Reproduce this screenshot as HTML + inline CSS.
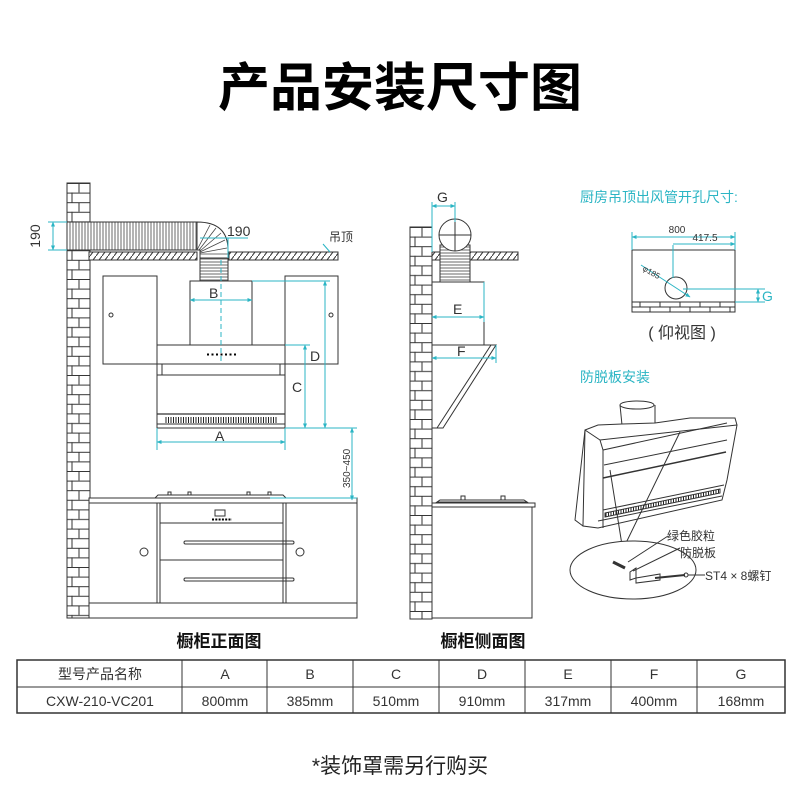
<!DOCTYPE html>
<html><head><meta charset="utf-8"><style>
html,body{margin:0;padding:0;background:#fff;}
svg{display:block;}
text{font-family:"Liberation Sans","Noto Sans CJK SC",sans-serif;}
</style></head><body>
<svg width="800" height="800" viewBox="0 0 800 800" xmlns="http://www.w3.org/2000/svg">
<defs>
<pattern id="brickF" x="67" y="183" width="23" height="19.2" patternUnits="userSpaceOnUse">
<rect width="23" height="19.2" fill="#fff"/>
<line x1="0" y1="0.5" x2="23" y2="0.5" stroke="#333" stroke-width="1"/>
<line x1="0" y1="10.1" x2="23" y2="10.1" stroke="#333" stroke-width="1"/>
<line x1="12" y1="0" x2="12" y2="9.6" stroke="#333" stroke-width="1"/>
<line x1="5" y1="9.6" x2="5" y2="19.2" stroke="#333" stroke-width="1"/>
</pattern>
<pattern id="brickS" x="410" y="227" width="22" height="19.2" patternUnits="userSpaceOnUse">
<rect width="22" height="19.2" fill="#fff"/>
<line x1="0" y1="0.5" x2="22" y2="0.5" stroke="#333" stroke-width="1"/>
<line x1="0" y1="10.1" x2="22" y2="10.1" stroke="#333" stroke-width="1"/>
<line x1="12" y1="0" x2="12" y2="9.6" stroke="#333" stroke-width="1"/>
<line x1="5" y1="9.6" x2="5" y2="19.2" stroke="#333" stroke-width="1"/>
</pattern>
<pattern id="hatch" width="6" height="8" patternUnits="userSpaceOnUse">
<rect width="6" height="8" fill="#fff"/>
<line x1="0" y1="8" x2="6" y2="0" stroke="#333" stroke-width="1"/>
</pattern>
<pattern id="vbel" width="3" height="10" patternUnits="userSpaceOnUse">
<rect width="3" height="10" fill="#fff"/>
<line x1="1" y1="0" x2="1" y2="10" stroke="#444" stroke-width="0.8"/>
</pattern>
<pattern id="hbel" width="10" height="3" patternUnits="userSpaceOnUse">
<rect width="10" height="3" fill="#fff"/>
<line x1="0" y1="1" x2="10" y2="1" stroke="#444" stroke-width="0.8"/>
</pattern>
<pattern id="grille" width="2.5" height="10" patternUnits="userSpaceOnUse">
<rect width="2.5" height="10" fill="#fff"/>
<line x1="1" y1="0" x2="1" y2="10" stroke="#222" stroke-width="1"/>
</pattern>
<marker id="ar" viewBox="0 0 10 10" refX="9" refY="5" markerWidth="5" markerHeight="5" orient="auto-start-reverse">
<path d="M0,1 L10,5 L0,9 z" fill="#2bb5c4"/>
</marker>
</defs>

<text x="400" y="106" font-size="52" font-weight="bold" text-anchor="middle" fill="#000">产品安装尺寸图</text>

<!-- FRONT VIEW -->
<g stroke="#333" fill="none" stroke-width="1">
<rect x="67" y="183" width="23" height="435" fill="url(#brickF)"/>
<rect x="89" y="252" width="108" height="8" fill="url(#hatch)"/>
<rect x="229" y="252" width="109" height="8" fill="url(#hatch)"/>
<rect x="67" y="222" width="130" height="28" fill="url(#vbel)"/>
<path d="M197,222 Q228,222 228,250 L228,258 L200,258 L200,250 Q200,250 197,250 Z" fill="#fff"/>
<path d="M197,250 L210,225 M199,250 L216,228 M200,251 L221,233 M200,252 L225,240 M200,253 L227,248 M200,254 L228,254" stroke="#444" stroke-width="0.8"/>
<rect x="200" y="258" width="28" height="24" fill="url(#hbel)"/>
<rect x="103" y="276" width="54" height="88" fill="#fff"/>
<circle cx="111" cy="315" r="2"/>
<rect x="285" y="276" width="53" height="88" fill="#fff"/>
<circle cx="331" cy="315" r="2"/>
<rect x="190" y="281" width="62" height="64" fill="#fff"/>
<rect x="157" y="345" width="128" height="19" fill="#fff"/>
<rect x="157" y="364" width="128" height="64" fill="#fff"/>
<line x1="162" y1="364" x2="162" y2="375"/><line x1="280" y1="364" x2="280" y2="375"/>
<line x1="157" y1="375" x2="285" y2="375"/>
<line x1="157" y1="414" x2="285" y2="414" stroke-width="1.3"/>
<rect x="165" y="417" width="112" height="6" fill="url(#grille)" stroke="none"/>
<line x1="157" y1="424" x2="285" y2="424"/>
<line x1="207" y1="354.5" x2="238" y2="354.5" stroke="#000" stroke-width="2" stroke-dasharray="2,2.5"/>
<path d="M155,498 L158,495 L283,495 L286,498 Z" fill="#fff"/>
<rect x="168" y="492" width="3" height="3"/><rect x="188" y="492" width="3" height="3"/><rect x="247" y="492" width="3" height="3"/><rect x="268" y="492" width="3" height="3"/>
<rect x="89" y="498" width="268" height="5" fill="#fff"/>
<rect x="89" y="503" width="268" height="115" fill="#fff"/>
<line x1="89" y1="603" x2="357" y2="603"/>
<line x1="157" y1="503" x2="157" y2="603"/><line x1="160" y1="503" x2="160" y2="603"/>
<line x1="283" y1="503" x2="283" y2="603"/><line x1="286" y1="503" x2="286" y2="603"/>
<line x1="160" y1="523" x2="283" y2="523"/>
<line x1="160" y1="560" x2="283" y2="560"/>
<rect x="215" y="510" width="10" height="6"/>
<line x1="212" y1="519.5" x2="232" y2="519.5" stroke="#000" stroke-width="2" stroke-dasharray="2,1.3"/>
<rect x="184" y="541" width="110" height="3" rx="1.5"/>
<rect x="184" y="578" width="110" height="3" rx="1.5"/>
<circle cx="144" cy="552" r="4"/><circle cx="300" cy="552" r="4"/>
</g>
<g stroke="#2bb5c4" fill="none" stroke-width="1">
<line x1="48" y1="222" x2="67" y2="222"/><line x1="48" y1="250" x2="67" y2="250"/>
<line x1="53" y1="222" x2="53" y2="250" marker-start="url(#ar)" marker-end="url(#ar)"/>
<line x1="200" y1="238" x2="248" y2="238"/>
<line x1="228" y1="238" x2="228" y2="258"/>
<line x1="190" y1="300" x2="252" y2="300" marker-start="url(#ar)" marker-end="url(#ar)"/>
<line x1="221" y1="260" x2="221" y2="364" stroke-dasharray="5,3"/>
<line x1="252" y1="281" x2="330" y2="281"/>
<line x1="325" y1="281" x2="325" y2="428" marker-start="url(#ar)" marker-end="url(#ar)"/>
<line x1="285" y1="345" x2="310" y2="345"/>
<line x1="305" y1="345" x2="305" y2="428" marker-start="url(#ar)" marker-end="url(#ar)"/>
<line x1="285" y1="428" x2="357" y2="428"/>
<line x1="157" y1="428" x2="157" y2="450"/><line x1="285" y1="428" x2="285" y2="450"/>
<line x1="157" y1="442" x2="285" y2="442" marker-start="url(#ar)" marker-end="url(#ar)"/>
<line x1="352" y1="428" x2="352" y2="500" marker-start="url(#ar)" marker-end="url(#ar)"/>
<line x1="270" y1="498" x2="357" y2="498"/>
</g>
<line x1="330" y1="252" x2="323" y2="244" stroke="#2bb5c4"/>
<g fill="#333" font-size="14">
<text x="40" y="236" transform="rotate(-90 40 236)" text-anchor="middle">190</text>
<text x="227" y="236">190</text>
<text x="329" y="241" font-size="12">吊顶</text>
<text x="209" y="298">B</text>
<text x="310" y="361">D</text>
<text x="292" y="392">C</text>
<text x="215" y="441">A</text>
<text x="0" y="0" font-size="10" transform="translate(350,488) rotate(-90)">350~450</text>
</g>

<!-- SIDE VIEW -->
<g stroke="#333" fill="none" stroke-width="1">
<rect x="410" y="227" width="22" height="392" fill="url(#brickS)"/>
<rect x="432" y="252" width="8" height="8" fill="url(#hatch)"/>
<rect x="470" y="252" width="48" height="8" fill="url(#hatch)"/>
<rect x="440" y="245" width="30" height="37" fill="url(#hbel)"/>
<circle cx="455" cy="235" r="16" fill="#fff"/>
<line x1="455" y1="219" x2="455" y2="251"/><line x1="439" y1="235" x2="471" y2="235"/>
<rect x="432" y="282" width="52" height="63" fill="#fff"/>
<path d="M432,345 L496,345 L443,428 L432,428 Z" fill="#fff"/>
<line x1="491" y1="345" x2="437" y2="428"/>
<path d="M437,502 L440,500 L524,500 L527,502 Z" fill="#fff"/>
<rect x="461" y="496" width="4" height="4"/><rect x="501" y="496" width="4" height="4"/>
<rect x="432" y="503" width="103" height="4" fill="#fff"/>
<rect x="432" y="507" width="100" height="111" fill="#fff"/>
</g>
<g stroke="#2bb5c4" fill="none" stroke-width="1">
<line x1="432" y1="202" x2="432" y2="252"/><line x1="455" y1="202" x2="455" y2="222"/>
<line x1="432" y1="206" x2="455" y2="206" marker-start="url(#ar)" marker-end="url(#ar)"/>
<line x1="484" y1="282" x2="484" y2="322"/>
<line x1="432" y1="317" x2="484" y2="317" marker-start="url(#ar)" marker-end="url(#ar)"/>
<line x1="496" y1="345" x2="496" y2="363"/>
<line x1="432" y1="358" x2="496" y2="358" marker-start="url(#ar)" marker-end="url(#ar)"/>
</g>
<g fill="#333" font-size="14">
<text x="437" y="202">G</text>
<text x="453" y="314">E</text>
<text x="457" y="356">F</text>
</g>

<!-- CEILING HOLE -->
<text x="580" y="202" font-size="14" fill="#2bb5c4">厨房吊顶出风管开孔尺寸:</text>
<g stroke="#333" fill="none" stroke-width="1">
<rect x="632" y="250" width="103" height="62" fill="#fff"/>
<line x1="632" y1="302" x2="735" y2="302"/>
<line x1="632" y1="307" x2="735" y2="307"/>
<path d="M640,302V307 M660,302V307 M680,302V307 M700,302V307 M720,302V307 M650,307V312 M670,307V312 M690,307V312 M710,307V312 M730,307V312"/>
<circle cx="676" cy="288" r="11" fill="#fff"/>
</g>
<g stroke="#2bb5c4" fill="none" stroke-width="1">
<line x1="632" y1="232" x2="632" y2="250"/><line x1="735" y1="232" x2="735" y2="250"/>
<line x1="632" y1="237" x2="735" y2="237" marker-start="url(#ar)" marker-end="url(#ar)"/>
<line x1="673" y1="245" x2="673" y2="278"/>
<line x1="673" y1="244" x2="735" y2="244" marker-end="url(#ar)"/>
<line x1="641" y1="265" x2="690" y2="297" marker-end="url(#ar)"/>
<line x1="683" y1="289" x2="765" y2="289"/><line x1="735" y1="302" x2="765" y2="302"/>
<line x1="758" y1="289" x2="758" y2="302" marker-start="url(#ar)" marker-end="url(#ar)"/>
</g>
<text x="677" y="233" font-size="10" fill="#333" text-anchor="middle">800</text>
<text x="705" y="241" font-size="10" fill="#333" text-anchor="middle">417.5</text>
<text x="642" y="270" font-size="8" fill="#333" transform="rotate(30 642 270)">φ185</text>
<text x="762" y="301" font-size="14" fill="#2bb5c4">G</text>
<text x="682" y="338" font-size="16" fill="#333" text-anchor="middle">( 仰视图 )</text>

<!-- ANTI-DETACH -->
<text x="580" y="382" font-size="14" fill="#2bb5c4">防脱板安装</text>
<g stroke="#333" fill="none" stroke-width="1">
<path d="M620,405 L622,425 L655,425 L655,405" fill="#fff"/>
<ellipse cx="637" cy="405" rx="17" ry="4" fill="#fff"/>
<path d="M585,430 L598,425 L622,424 L655,423 L690,418 L735,418 L737,425 L727,480 L722,500 L598,528 L583,526 L583,525 Z" fill="#fff"/>
<path d="M585,430 L600,440 L737,425"/>
<path d="M600,440 L603,450 L727,423"/>
<path d="M603,450 L603,528"/>
<path d="M604,465 L727,440"/>
<path d="M603,478 L726,452" stroke-width="1.5"/>
<path d="M603,510 L724,485"/>
<path d="M598,521 L722,496"/>
<path d="M605,513 L720,489 L720,493 L605,517 Z" fill="url(#grille)"/>
<path d="M585,430 L575,520 L583,526"/>
<path d="M610,470 L622,545 M680,432 L625,545"/>
<ellipse cx="633" cy="570" rx="63" ry="29" fill="#fff"/>
<line x1="613" y1="562" x2="625" y2="568" stroke-width="3"/>
<line x1="628" y1="562" x2="668" y2="536"/>
<path d="M630,572 L636,568 L636,578 L630,580 Z"/>
<path d="M636,578 L660,574 L660,580 L636,583 Z"/>
<line x1="633" y1="571" x2="680" y2="548"/>
<line x1="655" y1="578" x2="685" y2="575" stroke-width="2"/>
<circle cx="686" cy="575" r="2"/>
<line x1="688" y1="575" x2="705" y2="575"/>
</g>
<text x="667" y="540" font-size="12" fill="#333">绿色胶粒</text>
<text x="680" y="557" font-size="12" fill="#333">防脱板</text>
<text x="705" y="580" font-size="12" fill="#333">ST4 × 8螺钉</text>

<text x="219" y="647" font-size="17" font-weight="bold" text-anchor="middle" fill="#111">橱柜正面图</text>
<text x="483" y="647" font-size="17" font-weight="bold" text-anchor="middle" fill="#111">橱柜侧面图</text>

<g stroke="#333" fill="none">
<rect x="17" y="660" width="768" height="53" stroke-width="1.5"/>
<line x1="17" y1="687" x2="785" y2="687"/>
<path d="M182,660V713 M267,660V713 M353,660V713 M439,660V713 M525,660V713 M611,660V713 M697,660V713"/>
</g>
<g font-size="14" fill="#333" text-anchor="middle">
<text x="100" y="679">型号产品名称</text>
<text x="225" y="679">A</text><text x="310" y="679">B</text><text x="396" y="679">C</text><text x="482" y="679">D</text><text x="568" y="679">E</text><text x="654" y="679">F</text><text x="741" y="679">G</text>
<text x="100" y="706">CXW-210-VC201</text>
<text x="225" y="706">800mm</text><text x="310" y="706">385mm</text><text x="396" y="706">510mm</text><text x="482" y="706">910mm</text><text x="568" y="706">317mm</text><text x="654" y="706">400mm</text><text x="741" y="706">168mm</text>
</g>

<text x="400" y="773" font-size="21" text-anchor="middle" fill="#222">*装饰罩需另行购买</text>
</svg>
</body></html>
